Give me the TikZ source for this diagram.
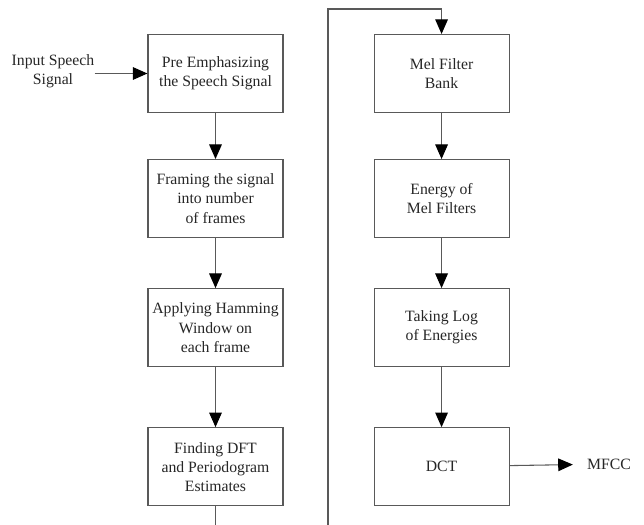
\documentclass[tikz,border=0pt]{standalone}
\usepackage{fontspec}
\setmainfont{Liberation Serif}
\usetikzlibrary{positioning, arrows.meta}

\begin{document}
\begin{tikzpicture}[
    x=0.75pt, y=-0.75pt,
    >={Triangle[length=11pt, width=9.5pt, color=black]},
    node distance=34.5pt and 67.5pt,
    box/.style ={draw=black!65, line width=0.8pt, rectangle, minimum height=58.5pt, minimum width=101.25pt, inner sep=2pt, align=center, font=\fontsize{11.8}{14.3}\selectfont, text=black!85},
    lbl/.style ={inner sep=0pt, align=center, font=\fontsize{11.8}{14.3}\selectfont, text=black!85},
    flow/.style={draw=black!65, line width=0.8pt, ->},
]
\clip (0,0) rectangle (644,525);

% left column
\node[box] (b1) at (215.5,73.5) {Pre Emphasizing\\the Speech Signal};
\node[box, below=of b1]      (b2) {Framing the signal\\into number\\of frames};
\node[box, below=37.5pt of b2] (b3) {Applying Hamming\\Window on\\each frame};
\node[box, below=45pt of b3]   (b4) {Finding DFT\\and Periodogram\\Estimates};

% right column
\node[box, right=of b1]      (m1) {Mel Filter\\Bank};
\node[box, below=of m1]      (m2) {Energy of\\Mel Filters};
\node[box, below=37.5pt of m2] (m3) {Taking Log\\of Energies};
\node[box, below=45pt of m3]   (dct) {DCT};

% input and output
\node[lbl] (in) at (53,71) {Input Speech\\Signal};
\node[lbl, inner xsep=10.5pt] (out) at (609,464) {MFCC};

\draw[flow] (in.east |- b1.west) -- (b1.west);
\draw[flow] (b1) -- (b2);
\draw[flow] (b2) -- (b3);
\draw[flow] (b3) -- (b4);

% loop from the bottom of the left column to the top of the right one
\coordinate (lowbend) at (328,540);
\coordinate (topbend) at (328,9);
\draw[flow] (b4.south) |- (lowbend) -- (topbend) -| (m1.north);

\draw[flow] (m1) -- (m2);
\draw[flow] (m2) -- (m3);
\draw[flow] (m3) -- (dct);
\draw[flow] (dct) -- (out);

\end{tikzpicture}
\end{document}
